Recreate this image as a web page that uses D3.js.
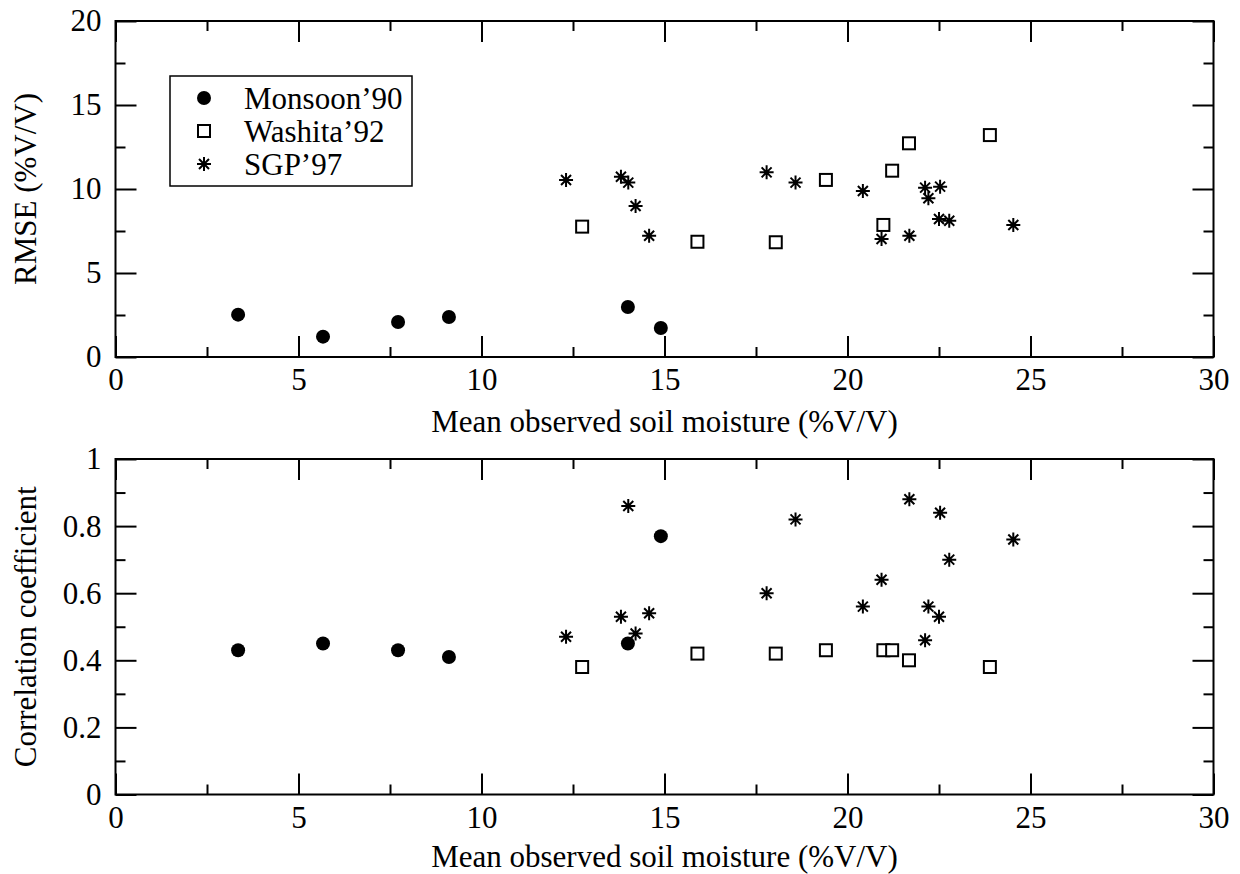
<!DOCTYPE html>
<html>
<head>
<meta charset="utf-8">
<script src="https://cdn.jsdelivr.net/npm/d3@7"></script>
<style>
  html, body { margin: 0; padding: 0; background: #fff; }
  svg { display: block; }
  svg text { font-family: 'Liberation Serif', 'Times New Roman', Times, serif !important; fill: #000; }
</style>
</head>
<body>
<svg id="chart" width="1240" height="874"></svg>
<script>
// ---- Data ----
const seriesNames = ["Monsoon\u201990", "Washita\u201992", "SGP\u201997"];

const monsoonX    = [3.35, 5.67, 7.72, 9.11, 14.0, 14.9];
const monsoonRMSE = [2.52, 1.21, 2.08, 2.38, 2.98, 1.73];
const monsoonR    = [0.43, 0.45, 0.43, 0.41, 0.45, 0.77];

const washitaX    = [12.75, 15.9, 18.04, 19.41, 20.98, 21.22, 21.68, 23.89];
const washitaRMSE = [7.76, 6.86, 6.83, 10.54, 7.86, 11.09, 12.72, 13.21];
const washitaR    = [0.38, 0.42, 0.42, 0.43, 0.43, 0.43, 0.40, 0.38];

const sgpX    = [12.31, 13.81, 14.01, 14.21, 14.58, 17.79, 18.58, 20.42, 20.93, 21.69, 22.12, 22.21, 22.53, 22.5, 22.78, 24.53];
const sgpRMSE = [10.54, 10.73, 10.38, 8.99, 7.22, 10.99, 10.38, 9.88, 7.02, 7.22, 10.08, 9.45, 10.14, 8.21, 8.11, 7.86];
const sgpR    = [0.47, 0.53, 0.86, 0.48, 0.54, 0.60, 0.82, 0.56, 0.64, 0.88, 0.46, 0.56, 0.84, 0.53, 0.70, 0.76];

const xMajorTicks = [0, 5, 10, 15, 20, 25, 30];
const xMinorTicks = [2.5, 7.5, 12.5, 17.5, 22.5, 27.5];
const rmseMajorTicks = [0, 5, 10, 15, 20];
const rmseMinorTicks = [2.5, 7.5, 12.5, 17.5];
const rMajorTicks = [0, 0.2, 0.4, 0.6, 0.8, 1];
const rMinorTicks = [0.1, 0.3, 0.5, 0.7, 0.9];

const xLabel = "Mean observed soil moisture (%V/V)";

// ---- Layout ----
const svg = d3.select("#chart");
const left = 115.5, right = 1213.5;
const FS = 31;
const SERIF = "'Liberation Serif', 'Times New Roman', Times, serif";
const MAJ = 21, MIN = 10;

const x = d3.scaleLinear().domain([0, 30]).range([left, right]);

const panels = [
  { top: 21, bottom: 357, domain: [0, 20], major: rmseMajorTicks, minor: rmseMinorTicks,
    fmt: d3.format("d"), ylabel: "RMSE (%V/V)", xlabOff: 75,
    sets: [[monsoonX, monsoonRMSE], [washitaX, washitaRMSE], [sgpX, sgpRMSE]] },
  { top: 459, bottom: 794.5, domain: [0, 1], major: rMajorTicks, minor: rMinorTicks,
    fmt: d => (d === 0 || d === 1) ? String(d) : d3.format(".1f")(d), ylabel: "Correlation coefficient", xlabOff: 72,
    sets: [[monsoonX, monsoonR], [washitaX, washitaR], [sgpX, sgpR]] }
];

const starPath = "M-7,0H7M0,-7V7M-5,-5L5,5M-5,5L5,-5";

function drawMarker(g, kind, cx, cy) {
  if (kind === 0) {
    g.append("circle").attr("cx", cx).attr("cy", cy).attr("r", 7).attr("fill", "#000");
  } else if (kind === 1) {
    g.append("rect").attr("x", cx - 6).attr("y", cy - 6).attr("width", 12).attr("height", 12)
      .attr("fill", "#fff").attr("stroke", "#000").attr("stroke-width", 2);
  } else {
    g.append("path").attr("d", starPath).attr("transform", `translate(${cx},${cy})`)
      .attr("fill", "none").attr("stroke", "#000").attr("stroke-width", 2);
  }
}

function styleAxis(sel) {
  sel.attr("font-family", null).attr("font-size", null);
  sel.select(".domain").remove();
  sel.selectAll(".tick line").attr("stroke", "#000").attr("stroke-width", 2);
  sel.selectAll(".tick text").style("font-size", FS + "px").style("font-family", SERIF).attr("fill", "#000");
}

panels.forEach(p => {
  const y = d3.scaleLinear().domain(p.domain).range([p.bottom, p.top]);
  const g = svg.append("g");

  const addAxis = (axisFn, scale, ticks, size, fmt, pad, transform) => {
    const a = axisFn(scale).tickValues(ticks).tickSizeInner(-size).tickSizeOuter(0).tickPadding(pad);
    a.tickFormat(fmt || (() => ""));
    g.append("g").attr("transform", transform).call(a).call(styleAxis);
  };
  addAxis(d3.axisBottom, x, xMajorTicks, MAJ, d3.format("d"), 11, `translate(0,${p.bottom})`);
  addAxis(d3.axisBottom, x, xMinorTicks, MIN, null, 0, `translate(0,${p.bottom})`);
  addAxis(d3.axisTop, x, xMajorTicks, MAJ, null, 0, `translate(0,${p.top})`);
  addAxis(d3.axisTop, x, xMinorTicks, MIN, null, 0, `translate(0,${p.top})`);
  addAxis(d3.axisLeft, y, p.major, MAJ, p.fmt, 14, `translate(${left},0)`);
  addAxis(d3.axisLeft, y, p.minor, MIN, null, 0, `translate(${left},0)`);
  addAxis(d3.axisRight, y, p.major, MAJ, null, 0, `translate(${right},0)`);
  addAxis(d3.axisRight, y, p.minor, MIN, null, 0, `translate(${right},0)`);

  g.append("rect").attr("x", left).attr("y", p.top).attr("width", right - left).attr("height", p.bottom - p.top)
    .attr("fill", "none").attr("stroke", "#000").attr("stroke-width", 2);

  g.append("text").attr("x", (left + right) / 2).attr("y", p.bottom + p.xlabOff)
    .attr("text-anchor", "middle").style("font-size", FS + "px").style("font-family", SERIF).text(xLabel);
  g.append("text").attr("transform", `translate(36,${(p.top + p.bottom) / 2}) rotate(-90)`)
    .attr("text-anchor", "middle").style("font-size", FS + "px").style("font-family", SERIF).text(p.ylabel);

  const pts = g.append("g");
  p.sets.forEach(([xs, ys], k) => {
    xs.forEach((v, i) => drawMarker(pts, k, x(v), y(ys[i])));
  });
});

// ---- Legend ----
const lg = svg.append("g");
lg.append("rect").attr("x", 170).attr("y", 76).attr("width", 242).attr("height", 110)
  .attr("fill", "#fff").attr("stroke", "#000").attr("stroke-width", 1.5);
const legendRows = [98, 131, 164];
seriesNames.forEach((name, k) => {
  drawMarker(lg, k, 204, legendRows[k]);
  lg.append("text").attr("x", 244).attr("y", legendRows[k]).attr("dy", "0.35em")
    .style("font-size", FS + "px").style("font-family", SERIF).text(name);
});
</script>
</body>
</html>
